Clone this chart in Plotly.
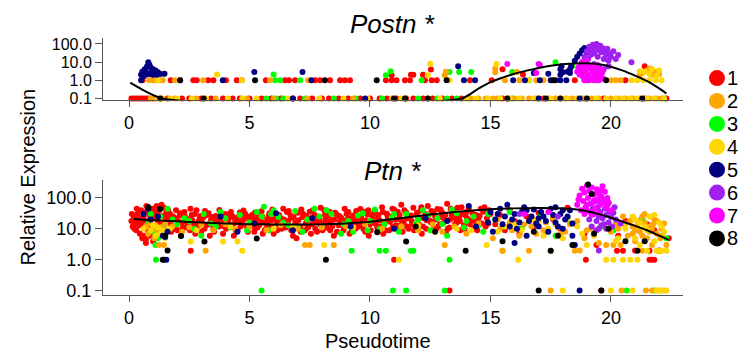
import plotly.graph_objects as go

# ---------------- categories / styling ----------------
clusters = ["1", "2", "3", "4", "5", "6", "7", "8"]
colors = ["#FF0000", "#FFA500", "#00FF00", "#FFD700", "#000080", "#A020F0", "#FF00FF", "#000000"]
draw_order = [0, 2, 1, 3, 4, 5, 6, 7]
x_ticks = [0, 5, 10, 15, 20]
y_tickvals = [0.1, 1, 10, 100]
y_ticktext = ["0.1", "1.0", "10.0", "100.0"]
FLOOR = 0.1  # undetected cells are drawn at the floor value

# ---------------- Postn: undetected cells (x only, at FLOOR) ----------------
postn_floor_c1 = [0.1, 0.2, 0.3, 0.4, 0.5, 0.6, 0.7, 0.8, 1.0, 1.6, 2.2, 2.5, 3.0, 3.4, 3.9, 4.3, 4.6, 5.0,
                  5.5, 5.9, 6.3, 6.8, 7.1, 7.6, 8.0, 8.3, 8.7, 9.1, 9.6, 10.0, 10.4, 10.7, 11.1, 11.5, 11.8,
                  12.2, 12.6, 13.0, 13.4, 13.8, 15.5, 17.2, 19.7, 21.4, 22.3]
postn_floor_c2 = [0.9, 1.1, 1.3, 1.9, 2.8, 3.6, 4.9, 6.0, 7.4, 9.3, 10.9, 12.4, 14.2, 14.5, 14.8, 15.1, 15.3,
                  15.7, 16.0, 16.3, 16.6, 16.9, 17.4, 17.7, 18.1, 18.4, 18.9, 19.2, 19.5, 20.0, 20.3, 20.6,
                  20.9, 21.2, 21.6, 21.9, 22.1]
postn_floor_c3 = [5.7, 6.1, 6.4, 7.3, 8.5, 9.4, 10.5, 12.0, 12.8, 13.2, 13.6, 14.1, 15.9, 18.8, 22.2]
postn_floor_c4 = [1.2, 1.4, 1.7, 2.0, 2.6, 3.2, 4.1, 4.7, 5.3, 6.6, 7.9, 8.9, 9.9, 11.3, 12.9, 14.0, 14.4,
                  14.9, 15.4, 15.8, 16.2, 16.8, 17.0, 17.5, 17.9, 18.2, 18.6, 19.0, 19.4, 19.8, 20.2, 20.5,
                  20.8, 21.1, 21.5, 21.8, 22.2]
postn_floor_c5 = [6.8, 9.8, 17.0, 18.7]
postn_floor_c6 = []
postn_floor_c7 = []
postn_floor_c8 = [1.3, 3.1, 11.0, 11.45, 12.4, 15.7, 17.3, 17.9, 19.0, 21.3]

# ---------------- Postn: detected cells (x, y) ----------------
postn_c1 = [(0.56, 1), (1.73, 1), (2.12, 1), (2.67, 1), (2.81, 1), (3.29, 1), (3.5, 1), (4.02, 1), (4.47, 1),
            (4.68, 1), (5.68, 1), (6.47, 1), (6.64, 1), (6.89, 1), (7.72, 1), (7.93, 1), (8.34, 1), (8.76, 1),
            (8.96, 1), (9.17, 1), (10.66, 1), (10.9, 1), (11.1, 1), (11.45, 1), (11.66, 1), (12.28, 1),
            (12.56, 1), (12.77, 1), (14.15, 1), (15.05, 1), (18.5, 1), (20.6, 1),
            (0.99, 2.0), (0.99, 2.6), (10.9, 1.9), (11.7, 2.0), (11.8, 2.0), (12.2, 2.0), (12.53, 3.9),
            (15.5, 4.0), (16.35, 2.1), (21.4, 6.0), (18.8, 3.0)]
postn_c2 = [(0.84, 1), (0.98, 1), (1.12, 1), (1.26, 1), (1.4, 1), (1.9, 1), (3.08, 1), (5.85, 1), (7.43, 1),
            (15.6, 1), (16.2, 1), (16.9, 1), (17.2, 1), (18.9, 1), (19.3, 1), (20.0, 1), (20.2, 1), (20.4, 1),
            (1.47, 2.3), (13.1, 1.9), (13.15, 3.0), (15.2, 4.5), (15.2, 2.8), (16.1, 2.9), (21.3, 2.5),
            (21.5, 3.5), (21.7, 2.0), (21.9, 3.0), (22.0, 2.2), (21.6, 4.5), (21.2, 2.0), (21.8, 2.5)]
postn_c3 = [(6.06, 1), (6.27, 1), (7.1, 1), (12.14, 1), (16.6, 1),
            (6.0, 2.1), (10.66, 1.9), (10.86, 3.2), (13.3, 2.9), (13.7, 2.9), (14.2, 2.9), (15.9, 2.9),
            (17.7, 10.0), (18.4, 6.0)]
postn_c4 = [(1.2, 1), (4.68, 1), (13.3, 1), (16.6, 1), (17.8, 1), (19.5, 1), (20.86, 1), (21.1, 1), (21.35, 1),
            (21.6, 1), (21.85, 1), (22.1, 1),
            (3.65, 2.1), (12.4, 1.9), (12.5, 8.1), (15.25, 8.0), (21.4, 3.0), (21.6, 2.2), (22.0, 3.5),
            (21.2, 3.2), (21.7, 4.2), (21.9, 1.8)]
postn_c5 = [(0.5, 1), (3.89, 1), (7.57, 1), (13.9, 1), (14.36, 1), (15.94, 1), (16.43, 1), (17.05, 1),
            (17.5, 1), (17.7, 1), (17.9, 1), (18.15, 1),
            (0.5, 2.0), (0.55, 3.0), (0.6, 2.5), (0.65, 4.0), (0.7, 3.0), (0.75, 6.0), (0.8, 10.0), (0.85, 7.0),
            (0.9, 5.0), (0.95, 3.0), (1.0, 4.0), (1.05, 2.5), (1.1, 3.5), (1.15, 2.0), (1.2, 2.8), (0.7, 2.0),
            (0.85, 2.2), (1.0, 2.0), (1.3, 2.2), (1.47, 2.3), (0.6, 1.6),
            (5.2, 2.9), (7.2, 2.9), (13.66, 6.0), (16.8, 2.5), (17.4, 2.3), (17.9, 2.0), (17.9, 4.0),
            (17.95, 6.0), (18.3, 2.5), (18.3, 4.0), (18.35, 6.0), (18.2, 3.0), (18.7, 30), (18.8, 45),
            (18.9, 60), (19.0, 35), (18.6, 20), (18.5, 12), (18.0, 2.8)]
postn_c6 = [(18.8, 10), (18.9, 20), (19.0, 40), (19.05, 15), (19.1, 70), (19.15, 25), (19.2, 50), (19.25, 90),
            (19.3, 30), (19.35, 60), (19.4, 100), (19.45, 20), (19.5, 45), (19.55, 80), (19.6, 35),
            (19.65, 60), (19.7, 15), (19.75, 40), (19.8, 25), (19.85, 55), (19.9, 12), (19.95, 30),
            (20.0, 20), (20.1, 40), (20.2, 15), (20.3, 25), (19.3, 8), (19.5, 6), (19.7, 4), (19.9, 6),
            (19.1, 5), (20.85, 10), (19.0, 1.0), (19.4, 1.0)]
postn_c7 = [(15.7, 8), (17.0, 8), (17.05, 7), (18.6, 3), (18.65, 5), (18.7, 2), (18.75, 7), (18.8, 4),
            (18.85, 1.5), (18.9, 6), (18.95, 3), (19.0, 8), (19.05, 2), (19.1, 4.5), (19.15, 1.2), (19.2, 6),
            (19.25, 3), (19.3, 1.8), (19.35, 5), (19.4, 2.5), (19.45, 7), (19.5, 1.5), (19.55, 4), (19.6, 2),
            (19.65, 3), (19.7, 1.2), (19.1, 1.0), (19.3, 1.0), (19.5, 1.0), (18.9, 1.0), (18.8, 10),
            (19.0, 12), (16.9, 2.5)]
postn_c8 = [(2.12, 1), (5.23, 1), (8.13, 1), (10.28, 1), (13.18, 1), (17.6, 1), (19.8, 1)]

postn_fit_x = [0.05, 1.4, 13.8, 14.5, 15.0, 15.5, 16.0, 16.5, 17.0, 17.5, 18.0, 18.5, 19.0, 19.5, 20.0,
               20.5, 21.0, 21.5, 22.0, 22.3]
postn_fit_y = [0.75, 0.1, 0.1, 0.35, 0.8, 1.4, 2.3, 3.4, 4.8, 6.3, 7.6, 8.5, 8.6, 7.6, 5.6, 3.4, 1.8,
               0.9, 0.36, 0.19]

# ---------------- Ptn: cells (x, y) ----------------
ptn_c1 = [(0.1, 18), (0.15, 12), (0.2, 25), (0.25, 15), (0.3, 9), (0.35, 30), (0.4, 20), (0.45, 7), (0.5, 40),
          (0.5, 14), (0.55, 5), (0.6, 25), (0.65, 11), (0.7, 35), (0.7, 4.5), (0.75, 18), (0.8, 50), (0.8, 8),
          (0.85, 28), (0.9, 6), (0.95, 22), (1.0, 45), (1.0, 12), (1.05, 33), (1.1, 9), (1.15, 55), (1.2, 20),
          (1.25, 40), (1.3, 14), (1.35, 60), (1.4, 26), (1.45, 48), (1.5, 17), (1.55, 35), (1.6, 22),
          (1.7, 30), (1.8, 12), (1.9, 22), (2.0, 9), (2.1, 27), (2.2, 16), (2.3, 35), (2.4, 11), (2.5, 20),
          (2.6, 28), (2.7, 14), (2.8, 40), (2.9, 18), (3.0, 8), (3.1, 24), (3.2, 13), (3.3, 32), (3.4, 19),
          (3.5, 10), (3.6, 26), (3.7, 15), (3.8, 22), (3.9, 7), (4.0, 30), (4.1, 17), (4.2, 12), (4.3, 25),
          (4.4, 20), (4.5, 9), (4.6, 34), (4.7, 14), (4.8, 23), (4.9, 11), (5.0, 18), (5.1, 28), (5.2, 8),
          (5.3, 21), (5.4, 13), (5.5, 37), (5.6, 16), (5.7, 10), (5.8, 26), (5.9, 19), (6.0, 7), (6.1, 31),
          (6.2, 14), (6.3, 22), (6.4, 45), (6.5, 11), (6.6, 18), (6.7, 27), (6.8, 6), (6.9, 16), (7.0, 33),
          (7.1, 12), (7.2, 24), (7.3, 9), (7.4, 19), (7.5, 36), (7.6, 14), (7.7, 28), (7.8, 8), (7.9, 21),
          (8.0, 15), (8.1, 40), (8.2, 11), (8.3, 26), (8.4, 18), (8.5, 6), (8.6, 30), (8.7, 13), (8.8, 23),
          (8.9, 9), (9.0, 19), (9.1, 35), (9.2, 15), (9.3, 27), (9.4, 10), (9.5, 21), (9.6, 44), (9.7, 17),
          (9.8, 8), (9.9, 29), (10.0, 14), (10.1, 24), (10.2, 38), (10.3, 11), (10.4, 19), (10.5, 50),
          (10.6, 16), (10.7, 31), (10.8, 9), (10.9, 25), (11.0, 42), (11.1, 13), (11.2, 21), (11.3, 60),
          (11.4, 17), (11.5, 34), (11.6, 10), (11.7, 27), (11.8, 48), (11.9, 15), (12.0, 23), (12.1, 39),
          (12.2, 12), (12.3, 30), (12.4, 55), (12.5, 18), (12.6, 9), (12.7, 26), (12.8, 44), (12.9, 14),
          (13.0, 33), (13.1, 20), (13.2, 65), (13.3, 11), (13.4, 28), (13.5, 40), (13.6, 16), (13.7, 24),
          (13.8, 50), (13.9, 13), (14.0, 35), (14.2, 19), (14.4, 28), (14.6, 45), (14.8, 12), (15.0, 30),
          (1.75, 8), (1.95, 40), (2.15, 6), (2.35, 19), (2.55, 45), (2.75, 7), (2.95, 26), (3.15, 38),
          (3.35, 6), (3.55, 17), (3.75, 41), (3.95, 12), (4.15, 28), (4.35, 6), (4.55, 16), (4.75, 39),
          (4.95, 24), (5.15, 12), (5.35, 30), (5.55, 7), (5.75, 20), (5.95, 42), (6.15, 9), (6.35, 16),
          (6.55, 35), (6.75, 23), (6.95, 5), (7.15, 42), (7.35, 26), (7.55, 7), (7.75, 17), (7.95, 48),
          (8.15, 20), (8.35, 9), (8.55, 33), (8.75, 17), (8.95, 45), (9.15, 7), (9.35, 22), (9.55, 13),
          (9.75, 36), (9.95, 6), (10.15, 16), (10.35, 28), (10.55, 7), (10.75, 21), (10.95, 12), (11.15, 36),
          (11.35, 8), (11.55, 22), (11.75, 14), (11.95, 33), (12.15, 7), (12.35, 19), (12.55, 38),
          (12.75, 10), (12.95, 24), (13.15, 8), (13.35, 45), (13.55, 22), (13.75, 9), (13.95, 28),
          (14.1, 45), (14.3, 10), (14.5, 22), (14.7, 36), (14.9, 15),
          (1.73, 15), (1.83, 25), (1.93, 10), (2.03, 18), (2.13, 32), (2.23, 11), (2.33, 24), (2.43, 14),
          (2.53, 9), (2.63, 19), (2.73, 30), (2.83, 12), (2.93, 21), (3.03, 16), (3.13, 10), (3.23, 28),
          (3.33, 14), (3.43, 24), (3.53, 8), (3.63, 18), (3.73, 12), (3.83, 30), (3.93, 17), (4.03, 10),
          (4.13, 21), (4.23, 35), (4.33, 14), (4.43, 9), (4.53, 24), (4.63, 12), (4.73, 19), (4.83, 30),
          (4.93, 8), (5.03, 15), (5.13, 22), (5.23, 34), (5.33, 11), (5.43, 18), (5.53, 25), (5.63, 9),
          (5.73, 14), (5.83, 32), (5.93, 12), (6.03, 21), (6.13, 17), (6.23, 28), (6.33, 10), (6.43, 20),
          (6.53, 13), (6.63, 38), (6.73, 9), (6.83, 24), (6.93, 14), (7.03, 19), (7.13, 8), (7.23, 30),
          (7.33, 15), (7.43, 11), (7.53, 22), (7.63, 40), (7.73, 10), (7.83, 25), (7.93, 14), (8.03, 9),
          (8.13, 28), (8.23, 17), (8.33, 35), (8.43, 12), (8.53, 20), (8.63, 8), (8.73, 26), (8.83, 15),
          (8.93, 11), (9.03, 30), (9.13, 22), (9.23, 8), (9.33, 16), (9.43, 38), (9.53, 12), (9.63, 24),
          (9.73, 10), (9.83, 19), (9.93, 40), (10.03, 9), (10.13, 30), (10.23, 15), (10.33, 22), (10.43, 12),
          (10.53, 35), (10.63, 9), (10.73, 26), (10.83, 17), (10.93, 45), (11.03, 20), (11.13, 10),
          (11.23, 28), (11.33, 15), (11.43, 40), (11.53, 12), (11.63, 25), (11.73, 18), (11.83, 9),
          (11.93, 30), (12.03, 14), (12.13, 50), (12.23, 22), (12.33, 10), (12.43, 28), (12.53, 16),
          (12.63, 35), (12.73, 20), (12.83, 12), (12.93, 42), (13.03, 15), (13.13, 28), (13.23, 10),
          (13.33, 20), (13.43, 35), (13.53, 14), (13.63, 48), (13.73, 18), (13.83, 30), (13.93, 10),
          (14.03, 22), (14.15, 14), (14.25, 32), (14.35, 18), (14.45, 9), (14.55, 26), (14.65, 15),
          (14.75, 50), (14.85, 22), (14.95, 40),
          (0.12, 30), (0.22, 10), (0.32, 45), (0.42, 13), (0.52, 22), (0.62, 6), (0.72, 55), (0.82, 16),
          (0.92, 38), (1.02, 25), (1.12, 7), (1.22, 35), (1.32, 50), (1.42, 10), (1.52, 28), (1.62, 40),
          (0.3, 16), (0.6, 18), (0.9, 12), (1.2, 15),
          (15.2, 14), (15.4, 28), (15.6, 9), (15.8, 40), (16.0, 18), (16.2, 7), (16.5, 25), (16.8, 12),
          (17.0, 33), (17.3, 8), (17.6, 20), (17.9, 10), (18.2, 48), (18.5, 15), (18.9, 7), (19.4, 3),
          (20.3, 6), (20.6, 18), (21.0, 2), (21.3, 22), (21.5, 14), (21.8, 9), (22.0, 2), (22.4, 5),
          (18.96, 1.0), (20.25, 1.95), (20.5, 1.95), (21.6, 1.0), (21.7, 1.0), (21.8, 1.0), (21.6, 1.95),
          (22.0, 1.95), (19.6, 0.1), (13.3, 0.1), (11.0, 1.0), (2.56, 1.95), (0.7, 3.5), (1.0, 4)]
ptn_c2 = [(0.7, 12), (0.8, 7), (0.9, 15), (1.0, 10), (1.05, 5), (1.1, 13), (1.2, 8), (1.25, 3), (1.3, 11),
          (1.4, 6), (1.45, 3), (1.5, 14), (1.6, 9), (1.8, 12), (2.2, 8), (2.5, 11), (3.0, 13), (3.18, 1.95),
          (3.5, 9), (4.0, 14), (4.4, 10), (5.0, 12), (5.7, 9), (6.3, 13), (7.0, 10), (7.3, 3), (7.5, 3),
          (8.0, 11), (8.5, 3), (9.0, 12), (9.8, 14), (10.5, 10), (11.3, 12), (12.0, 9), (12.6, 14), (13.0, 8),
          (13.1, 3), (13.5, 12), (14.0, 7), (14.5, 15), (15.1, 5), (15.4, 10), (15.5, 1.95), (15.8, 16),
          (16.2, 6), (16.6, 1.95), (16.7, 12), (17.2, 9), (17.5, 1.95), (17.5, 0.1), (17.6, 22), (17.9, 7),
          (18.3, 14), (18.5, 1.95), (18.7, 2), (18.9, 5), (19.2, 10), (19.5, 3.5), (19.8, 3), (20.0, 8),
          (20.1, 3), (20.2, 14), (20.4, 3), (20.44, 0.1), (20.5, 25), (20.7, 6), (20.9, 12), (21.0, 4),
          (21.1, 18), (21.2, 8), (21.3, 1.95), (21.4, 30), (21.5, 5), (21.6, 12), (21.7, 3), (21.8, 20),
          (21.9, 7), (22.0, 1.95), (22.1, 10), (22.2, 15), (22.3, 3), (21.45, 0.1), (21.7, 0.1), (22.0, 0.1),
          (22.2, 0.1), (20.6, 15), (21.0, 9), (21.3, 6), (21.75, 14), (22.05, 5),
          (15.3, 20), (15.9, 9), (16.4, 14), (16.9, 7), (17.3, 16), (17.8, 11), (18.1, 8), (18.6, 18),
          (19.0, 9), (20.3, 10), (20.8, 18), (21.1, 12), (21.3, 25), (21.6, 8), (21.9, 18), (22.1, 6),
          (20.9, 7), (21.4, 16), (21.7, 10)]
ptn_c3 = [(0.9, 30), (1.0, 8), (1.1, 3), (1.12, 1.0), (1.2, 5), (1.3, 25), (1.4, 12), (1.6, 45), (2.0, 14),
          (2.3, 22), (2.7, 10), (3.1, 30), (3.4, 15), (3.8, 35), (4.2, 11), (4.6, 28), (5.0, 16), (5.3, 35),
          (5.5, 0.1), (5.6, 52), (5.8, 9), (6.2, 24), (6.6, 13), (6.9, 38), (7.2, 8), (7.4, 20), (7.7, 45),
          (8.0, 12), (8.4, 30), (8.8, 7), (9.1, 18), (9.24, 1.95), (9.5, 27), (9.9, 9), (10.2, 42),
          (10.4, 1.95), (10.6, 14), (10.66, 1.95), (10.9, 23), (10.95, 0.1), (11.2, 8), (11.5, 0.1),
          (11.5, 30), (11.7, 1.95), (11.8, 1.95), (11.9, 15), (12.2, 40), (12.5, 9), (12.8, 22), (13.1, 0.1),
          (13.2, 6), (13.3, 1.0), (13.6, 32), (13.9, 11), (14.3, 25), (14.7, 8), (15.2, 20), (15.5, 1.95),
          (15.8, 35), (16.3, 10), (17.1, 28), (17.7, 6), (18.3, 15), (19.6, 12), (20.1, 9), (20.65, 0.1),
          (21.3, 20), (21.8, 0.1), (22.3, 5),
          (2.5, 18), (3.6, 12), (4.0, 22), (4.9, 9), (5.9, 30), (6.4, 16), (7.0, 11), (7.9, 25), (8.2, 40),
          (8.9, 14), (9.7, 32), (10.0, 18), (10.4, 10), (11.0, 30), (11.3, 12), (12.0, 20), (12.4, 28),
          (13.0, 14), (13.4, 42), (14.0, 18), (14.5, 13), (14.9, 30), (1.8, 20), (0.8, 15), (3.0, 6),
          (5.5, 25), (6.0, 40), (9.3, 8)]
ptn_c4 = [(0.6, 10), (0.9, 9), (1.0, 13), (1.1, 6), (1.2, 11), (1.3, 7), (1.4, 9), (1.5, 5), (1.7, 10),
          (2.56, 3.9), (3.9, 3.9), (4.5, 3.9), (4.7, 1.95), (2.8, 9), (4.2, 12), (6.0, 10), (6.8, 12),
          (8.1, 3), (9.3, 11), (11.2, 1.0), (12.0, 13), (12.7, 8), (13.6, 10), (14.84, 3), (14.2, 9),
          (15.3, 8), (16.0, 14), (16.15, 1.0), (16.5, 6), (17.0, 18), (17.4, 10), (18.0, 0.1), (18.0, 5),
          (18.6, 12), (19.0, 3), (19.3, 6), (19.8, 1.0), (20.0, 0.1), (20.1, 1.0), (20.3, 5), (20.5, 1.0),
          (20.6, 10), (20.8, 1.0), (20.9, 0.1), (21.0, 20), (21.1, 1.0), (21.2, 3), (21.4, 12), (21.5, 1.95),
          (21.6, 25), (21.8, 4), (21.9, 1.95), (22.0, 16), (22.1, 1.95), (22.2, 8), (22.3, 1.95), (21.9, 0.1),
          (22.1, 0.1), (22.3, 0.1), (20.2, 4),
          (15.6, 12), (16.3, 9), (16.8, 20), (17.2, 6), (17.7, 14), (18.2, 22), (18.8, 7),
          (20.5, 14), (20.9, 25), (21.2, 16), (21.5, 9), (21.8, 28), (22.1, 12), (21.0, 5)]
ptn_c5 = [(0.6, 30), (0.8, 45), (0.9, 20), (1.2, 25), (1.4, 6), (1.5, 5.4), (1.45, 1.0), (1.55, 1.0), (1.6, 8),
          (3.8, 25), (4.5, 8), (5.2, 15), (6.1, 32), (6.8, 9), (7.6, 22), (9.2, 12), (11.0, 10), (12.3, 22),
          (13.2, 18), (14.1, 55), (14.4, 12), (14.9, 16), (15.1, 8), (15.3, 30), (15.5, 14), (15.7, 60),
          (15.9, 20), (16.1, 10), (16.3, 35), (16.5, 6), (16.6, 18), (16.8, 42), (17.0, 12), (17.2, 25),
          (17.4, 8), (17.5, 45), (17.7, 16), (17.9, 30), (18.0, 10), (18.1, 20), (18.3, 40), (18.4, 6),
          (18.7, 0.1), (18.5, 3), (16.0, 3.5),
          (15.2, 20), (15.4, 45), (15.6, 25), (15.8, 12), (16.0, 30), (16.2, 16), (16.4, 50), (16.7, 25),
          (16.9, 15), (17.1, 35), (17.3, 18), (17.6, 28), (17.8, 12), (18.0, 40), (18.2, 25), (18.4, 15),
          (15.0, 35), (16.5, 40), (17.0, 22), (17.7, 50)]
ptn_c6 = [(19.0, 40), (19.1, 20), (19.15, 65), (19.2, 12), (19.3, 30), (19.35, 80), (19.4, 18), (19.45, 50),
          (19.5, 10), (19.55, 35), (19.6, 70), (19.65, 22), (19.7, 14), (19.75, 45), (19.8, 28), (19.85, 60),
          (19.9, 16), (19.95, 38), (20.0, 24), (20.05, 12), (20.1, 33), (20.15, 50), (20.2, 20), (19.25, 45),
          (19.5, 25), (19.7, 90), (19.9, 70), (19.4, 9), (19.6, 13), (19.8, 10), (19.5, 2), (16.2, 30),
          (17.8, 25), (20.4, 15)]
ptn_c7 = [(18.6, 60), (18.7, 120), (18.75, 40), (18.8, 200), (18.85, 80), (18.9, 150), (18.95, 50),
          (19.0, 250), (19.05, 100), (19.1, 170), (19.15, 35), (19.2, 220), (19.25, 70), (19.3, 130),
          (19.35, 45), (19.4, 190), (19.45, 90), (19.5, 140), (19.55, 60), (19.6, 110), (19.65, 240),
          (19.7, 75), (19.75, 160), (19.8, 50), (19.85, 100), (19.9, 70), (20.0, 40), (18.9, 30), (19.2, 28),
          (19.5, 32), (18.65, 90), (19.0, 60), (19.3, 85), (19.6, 180), (17.4, 35), (16.4, 30)]
ptn_c8 = [(0.8, 50), (1.29, 44), (1.4, 1.0), (1.6, 2.0), (1.5, 6), (2.16, 5.9), (3.13, 3.9), (5.3, 4.9),
          (8.17, 1.0), (10.3, 7.8), (11.5, 3.9), (11.9, 12), (12.7, 8), (13.97, 1.95), (15.5, 4), (16.8, 8),
          (17.0, 0.1), (17.5, 1.95), (17.8, 6), (18.4, 3), (19.05, 275), (19.2, 134), (19.3, 7), (19.6, 0.1),
          (19.9, 10), (20.6, 4), (21.1, 1.95), (21.4, 4)]

ptn_fit_x = [0.2, 1, 2, 3, 4, 5, 6, 7, 8, 9, 10, 11, 12, 13, 14, 15, 16, 17, 18, 18.5, 19, 19.5, 20, 20.5,
             21, 21.5, 22, 22.4]
ptn_fit_y = [21, 19, 17.5, 16, 15, 14.2, 13.8, 13.8, 14, 15, 17, 21, 26, 32, 38, 43, 46, 47, 46, 43, 37, 30,
             23, 17, 12.5, 9, 6, 4.4]

# ---------------- build figure ----------------
W, H = 744, 360
FONT = "Liberation Sans, Arial, Helvetica, sans-serif"

postn_floor = [postn_floor_c1, postn_floor_c2, postn_floor_c3, postn_floor_c4,
               postn_floor_c5, postn_floor_c6, postn_floor_c7, postn_floor_c8]
postn_det = [postn_c1, postn_c2, postn_c3, postn_c4, postn_c5, postn_c6, postn_c7, postn_c8]
ptn_det = [ptn_c1, ptn_c2, ptn_c3, ptn_c4, ptn_c5, ptn_c6, ptn_c7, ptn_c8]

fig = go.Figure()
MS = 6

for i in draw_order:
    xs = list(postn_floor[i]) + [p[0] for p in postn_det[i]]
    ys = [FLOOR] * len(postn_floor[i]) + [p[1] for p in postn_det[i]]
    fig.add_trace(go.Scatter(x=xs, y=ys, mode="markers", xaxis="x", yaxis="y",
                             marker=dict(size=MS, color=colors[i], line=dict(width=0)),
                             cliponaxis=False, name=clusters[i], hoverinfo="skip"))
fig.add_trace(go.Scatter(x=postn_fit_x, y=postn_fit_y, mode="lines", xaxis="x", yaxis="y",
                         line=dict(color="black", width=2, shape="spline", smoothing=0.6),
                         cliponaxis=False, hoverinfo="skip"))

for i in draw_order:
    fig.add_trace(go.Scatter(x=[p[0] for p in ptn_det[i]], y=[p[1] for p in ptn_det[i]], mode="markers",
                             xaxis="x2", yaxis="y2",
                             marker=dict(size=MS, color=colors[i], line=dict(width=0)),
                             cliponaxis=False, name=clusters[i], hoverinfo="skip"))
fig.add_trace(go.Scatter(x=ptn_fit_x, y=ptn_fit_y, mode="lines", xaxis="x2", yaxis="y2",
                         line=dict(color="black", width=2, shape="spline", smoothing=0.6),
                         cliponaxis=False, hoverinfo="skip"))

axis_line = "#555555"
xcommon = dict(domain=[103 / W, 683 / W], range=[-1.08, 22.99], tickvals=x_ticks, ticks="outside",
               ticklen=6, tickwidth=1, tickcolor=axis_line, showline=True, linecolor=axis_line, linewidth=1,
               showgrid=False, zeroline=False, tickfont=dict(size=18, color="black", family=FONT))
ycommon = dict(type="log", tickvals=y_tickvals, ticktext=y_ticktext, ticks="outside", ticklen=7,
               tickwidth=1, tickcolor=axis_line, showline=True, linecolor=axis_line, linewidth=1,
               showgrid=False, zeroline=False)

fig.update_layout(
    width=W, height=H, margin=dict(l=0, r=0, t=0, b=0),
    paper_bgcolor="white", plot_bgcolor="white", showlegend=False,
    font=dict(family=FONT, color="black"),
    xaxis=dict(anchor="y", **xcommon),
    yaxis=dict(anchor="x", domain=[(H - 101) / H, (H - 37) / H], range=[-1.107, 2.321],
               tickfont=dict(size=16, color="black", family=FONT), **ycommon),
    xaxis2=dict(anchor="y2", **xcommon),
    yaxis2=dict(anchor="x2", domain=[(H - 301) / H, (H - 183) / H], range=[-1.158, 2.568],
                tickfont=dict(size=18, color="black", family=FONT), **ycommon),
)

ann = []
ann.append(dict(text="<i>Postn *</i>", x=392 / W, y=(H - 23) / H, xref="paper", yref="paper",
                xanchor="center", yanchor="middle", showarrow=False, font=dict(size=26, family=FONT)))
ann.append(dict(text="<i>Ptn *</i>", x=392 / W, y=(H - 173) / H, xref="paper", yref="paper",
                xanchor="center", yanchor="middle", showarrow=False, font=dict(size=26, family=FONT)))
ann.append(dict(text="Relative Expression", x=27 / W, y=(H - 180) / H, xref="paper", yref="paper",
                xanchor="center", yanchor="middle", textangle=-90, showarrow=False,
                font=dict(size=20, family=FONT)))
ann.append(dict(text="Pseudotime", x=378 / W, y=(H - 348) / H, xref="paper", yref="paper",
                xanchor="center", yanchor="middle", showarrow=False, font=dict(size=20, family=FONT)))

shapes = []
for k, (lab, col) in enumerate(zip(clusters, colors)):
    yc = 78 + 23.5 * k
    shapes.append(dict(type="circle", xref="paper", yref="paper", xsizemode="pixel", ysizemode="pixel",
                       xanchor=717 / W, yanchor=(H - yc) / H, x0=-8, x1=8, y0=-8, y1=8,
                       fillcolor=col, line=dict(width=0)))
    ann.append(dict(text=lab, x=726 / W, y=(H - yc) / H, xref="paper", yref="paper", xanchor="left",
                    yanchor="middle", showarrow=False, borderpad=0, font=dict(size=20, family=FONT)))

fig.update_layout(annotations=ann, shapes=shapes)
fig.write_html("out.html")
